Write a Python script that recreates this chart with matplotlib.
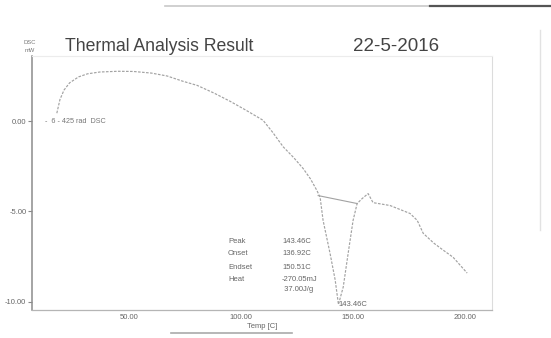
import matplotlib.pyplot as plt
from matplotlib.lines import Line2D

plt.rcParams['font.family'] = ['Liberation Sans', 'DejaVu Sans']

# DSC trace (temperature in C, heat flow in mW)
temp = [17.8, 19.2, 21.0, 23.5, 27.5, 31.5, 37.0, 45.0, 52.0, 60.0,
        67.0, 74.0, 80.4, 88.0, 95.1, 102.0, 109.8, 114.0,
        118.8, 123.5, 127.7, 131.0, 133.9, 135.3, 136.6, 139.7, 142.0,
        143.46, 145.6, 147.8, 150.0, 151.8, 154.0, 156.7, 158.9, 166.5,
        175.4, 178.6, 181.3, 186.0, 190.2, 194.6, 200.9]
dsc = [0.44, 1.20, 1.72, 2.12, 2.45, 2.62, 2.72, 2.76, 2.75, 2.66,
       2.50, 2.21, 1.98, 1.55, 1.10, 0.62, 0.05, -0.60,
       -1.42, -2.02, -2.62, -3.20, -3.85, -4.23, -5.49, -7.31, -8.79,
       -10.15, -9.18, -7.31, -5.49, -4.56, -4.29, -4.01, -4.51, -4.67,
       -5.11, -5.49, -6.21, -6.75, -7.14, -7.53, -8.41]

# peak baseline between onset and endset
base_t = [134.4, 151.8]
base_v = [-4.12, -4.56]

peak_t = 143.46
peak_v = -10.15
result_names = ["Peak", "Onset", "Endset", "Heat", ""]
result_values = ["143.46C", "136.92C", "150.51C", "-270.05mJ", " 37.00J/g"]

xticks = [50, 100, 150, 200]
yticks = [0, -5, -10]

fig = plt.figure(figsize=(5.51, 3.38), dpi=100)
ax = fig.add_axes([0.058, 0.083, 0.835, 0.751])

gray = '#a2a2a2'
ax.plot(temp, dsc, color=gray, lw=0.85, ls=(0, (2.2, 1.2)))
ax.plot(base_t, base_v, color=gray, lw=0.8)

ax.set_xlim(6.7, 212)
ax.set_ylim(-10.45, 3.6)
ax.set_xticks(xticks)
ax.set_xticklabels([f"{t:.2f}" for t in xticks])
ax.set_yticks(yticks)
ax.set_yticklabels([f"{v:.2f}" for v in yticks])
ax.tick_params(axis='y', length=3, width=0.8, color='#888', pad=1,
               labelsize=5.5, labelcolor='#666')
ax.tick_params(axis='x', length=0, pad=3, labelsize=5.5, labelcolor='#666')
ax.set_xlabel("Temp [C]", fontsize=5.5, color='#666', labelpad=1)

ax.spines['left'].set_color('#8c8c8c')
ax.spines['left'].set_linewidth(1.1)
ax.spines['bottom'].set_color('#b5b5b5')
ax.spines['bottom'].set_linewidth(0.9)
ax.spines['right'].set_color('#dcdcdc')
ax.spines['top'].set_color('#ececec')

# curve label
ax.text(12.3, 0.0, "-  6 - 425 rad  DSC", fontsize=5.2, color='#777',
        va='center', ha='left')

# analysis results block
rows_v = [-6.65, -7.31, -8.08, -8.79, -9.34]
for name, val, v in zip(result_names, result_values, rows_v):
    ax.text(94.2, v, name, fontsize=5.5, color='#666', va='center')
    ax.text(118.3, v, val, fontsize=5.5, color='#666', va='center')
ax.text(peak_t, peak_v, f"{peak_t:.2f}C", fontsize=5.5, color='#666',
        va='center', ha='left')

# header
fig.text(0.118, 0.861, "Thermal Analysis Result", fontsize=12.7,
         color='#444', va='center')
fig.text(0.64, 0.861, "22-5-2016", fontsize=13.5, color='#444', va='center')
fig.text(0.054, 0.873, "DSC", fontsize=4.2, color='#777', ha='center',
         va='center')
fig.text(0.054, 0.852, "mW", fontsize=4.2, color='#777', ha='center',
         va='center')

# page edges from the printout
fig.add_artist(Line2D([0.3, 0.78], [0.982, 0.982], color='#c8c8c8', lw=1.2))
fig.add_artist(Line2D([0.78, 1.0], [0.982, 0.982], color='#555', lw=1.6))
fig.add_artist(Line2D([0.98, 0.98], [0.32, 0.91], color='#e2e2e2', lw=1.0))
fig.add_artist(Line2D([0.31, 0.53], [0.015, 0.015], color='#aaa', lw=1.2))

fig.savefig("out.png", dpi=100, facecolor='white')
